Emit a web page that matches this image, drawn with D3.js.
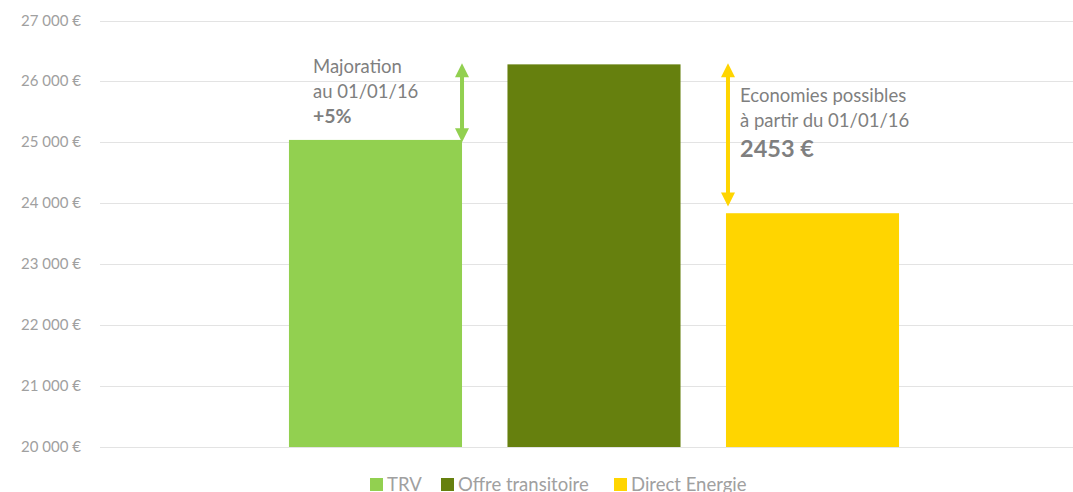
<!DOCTYPE html>
<html>
<head>
<meta charset="utf-8">
<script src="https://cdn.jsdelivr.net/npm/d3@7"></script>
<style>
  body { margin: 0; background: #fff; }
  svg { display: block; font-family: Lato, "Open Sans", sans-serif; }
</style>
</head>
<body>
<div id="chart"></div>
<script>
const categories = ["TRV", "Offre transitoire", "Direct Energie"];
const values = [25040, 26280, 23837];
const colors = ["#92D050", "#66800E", "#FFD500"];
const yTicks = [20000, 21000, 22000, 23000, 24000, 25000, 26000, 27000];

const width = 1073, height = 492;

const svg = d3.select("#chart")
  .append("svg")
  .attr("width", width)
  .attr("height", height);

const yScale = d3.scaleLinear()
  .domain([20000, 27000])
  .range([447, 20.5]);

const xScale = d3.scaleBand()
  .domain(categories)
  .range([110, 1078])
  .paddingInner(0.208)
  .paddingOuter(0.819);

const fmt = d => d3.format(",")(d).replace(",", " ") + " €";

// gridlines
svg.append("g")
  .selectAll("line")
  .data(yTicks)
  .join("line")
  .attr("x1", 100)
  .attr("x2", width)
  .attr("y1", d => Math.round(yScale(d)) + 0.5)
  .attr("y2", d => Math.round(yScale(d)) + 0.5)
  .attr("stroke", "#e3e3e3")
  .attr("stroke-width", 1);

// y axis labels
svg.append("g")
  .selectAll("text")
  .data(yTicks)
  .join("text")
  .attr("x", 81)
  .attr("y", d => yScale(d) + 5)
  .attr("text-anchor", "end")
  .attr("fill", "#a0a0a0")
  .style("font-size", "15px")
  .text(fmt);

// bars
svg.append("g")
  .selectAll("rect")
  .data(categories)
  .join("rect")
  .attr("x", d => xScale(d))
  .attr("y", (d, i) => yScale(values[i]))
  .attr("width", xScale.bandwidth())
  .attr("height", (d, i) => yScale(20000) - yScale(values[i]))
  .attr("fill", (d, i) => colors[i]);

// double-headed arrows
function arrow(x, v1, v2, color) {
  const yTop = yScale(v1), yBot = yScale(v2);
  const g = svg.append("g").attr("fill", color);
  const head = 14, hw = 7;
  g.append("rect")
    .attr("x", x - 2).attr("y", yTop + head - 1)
    .attr("width", 4).attr("height", yBot - yTop - 2 * head + 2);
  g.append("path")
    .attr("d", `M${x},${yTop} L${x - hw},${yTop + head} L${x + hw},${yTop + head} Z`);
  g.append("path")
    .attr("d", `M${x},${yBot} L${x - hw},${yBot - head} L${x + hw},${yBot - head} Z`);
}
const b0 = xScale(categories[0]) + xScale.bandwidth();
const b2 = xScale(categories[2]);
arrow(b0, values[1] + 20, values[0] - 40, colors[0]);
arrow(b2 + 2, values[1] + 20, values[2] + 110, colors[2]);

// annotations
const ann1 = svg.append("text")
  .attr("fill", "#7f7f7f").style("font-size", "18.5px");
ann1.append("tspan").attr("x", 313).attr("y", 73).text("Majoration");
ann1.append("tspan").attr("x", 313).attr("y", 98).text("au 01/01/16");
ann1.append("tspan").attr("x", 313).attr("y", 123)
  .style("font-weight", "bold").style("font-size", "19.5px").text("+5%");

const ann2 = svg.append("text")
  .attr("fill", "#7f7f7f").style("font-size", "18.5px");
ann2.append("tspan").attr("x", 740).attr("y", 102).text("Economies possibles");
ann2.append("tspan").attr("x", 740).attr("y", 127).text("à partir du 01/01/16");
ann2.append("tspan").attr("x", 740).attr("y", 157)
  .style("font-weight", "bold").style("font-size", "23.5px").text("2453 €");

// legend
const legendX = [370, 441, 614];
const legend = svg.append("g")
  .selectAll("g")
  .data(categories)
  .join("g")
  .attr("transform", (d, i) => `translate(${legendX[i]}, 478)`);
legend.append("rect")
  .attr("width", 13).attr("height", 13)
  .attr("fill", (d, i) => colors[i]);
legend.append("text")
  .attr("x", 17).attr("y", 13)
  .attr("fill", "#a0a0a0")
  .style("font-size", "18.5px")
  .text(d => d);
</script>
</body>
</html>
